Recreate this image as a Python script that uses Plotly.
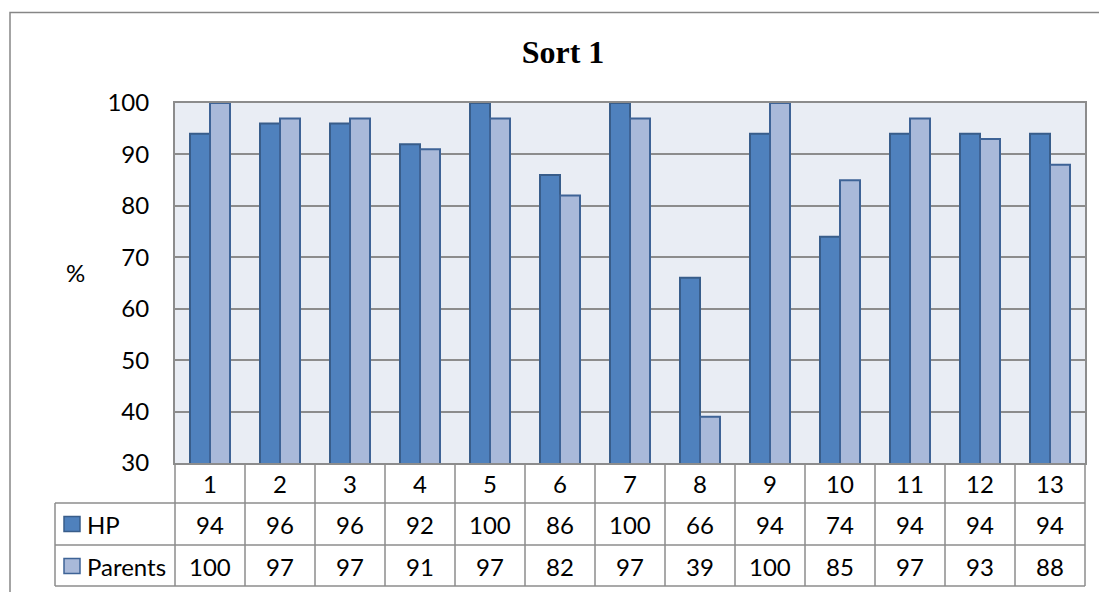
import plotly.graph_objects as go

# Chart data
categories = [str(i) for i in range(1, 14)]
hp_values = [94, 96, 96, 92, 100, 86, 100, 66, 94, 74, 94, 94, 94]
parents_values = [100, 97, 97, 91, 97, 82, 97, 39, 100, 85, 97, 93, 88]
series_names = ["HP", "Parents"]
y_ticks = [30, 40, 50, 60, 70, 80, 90, 100]

W, H = 1099, 592
PLOT_L, PLOT_R, PLOT_T, PLOT_B = 175, 1085, 103, 463

HP_FILL, HP_LINE = "#4F81BD", "#385D8A"
PA_FILL, PA_LINE = "#A9B9D9", "#3E6396"
GRID = "#8C8C8C"
FONT = "Lato"
FS = 24


def px_x(x):
    return (x - PLOT_L) / (PLOT_R - PLOT_L)


def px_y(y):
    return (PLOT_B - y) / (PLOT_B - PLOT_T)


fig = go.Figure()
fig.add_bar(x=categories, y=hp_values, name=series_names[0],
            marker=dict(color=HP_FILL, line=dict(color=HP_LINE, width=2)))
fig.add_bar(x=categories, y=parents_values, name=series_names[1],
            marker=dict(color=PA_FILL, line=dict(color=PA_LINE, width=2)))

shapes = []
annotations = []

# Outer chart frame (runs off the right and bottom edges)
shapes.append(dict(type="rect", xref="paper", yref="paper",
                   x0=px_x(10), x1=px_x(W + 5), y0=px_y(H + 5), y1=px_y(12.5),
                   line=dict(color="#868686", width=1.5), fillcolor="rgba(0,0,0,0)",
                   layer="below"))

# Data table grid
row_lines = [503, 545, 586]
for ry in row_lines:
    shapes.append(dict(type="line", xref="paper", yref="paper",
                       x0=px_x(55), x1=px_x(PLOT_R), y0=px_y(ry), y1=px_y(ry),
                       line=dict(color=GRID, width=1.5)))
shapes.append(dict(type="line", xref="paper", yref="paper",
                   x0=px_x(55), x1=px_x(55), y0=px_y(503), y1=px_y(586),
                   line=dict(color=GRID, width=1.5)))
n = len(categories)
for k in range(n + 1):
    xp = k / n
    shapes.append(dict(type="line", xref="paper", yref="paper",
                       x0=xp, x1=xp, y0=px_y(PLOT_B), y1=px_y(586),
                       line=dict(color=GRID, width=1.5)))

# Table text: header, HP row, Parents row
row_centers = [483, 524, 566]
for i, cat in enumerate(categories):
    xc = (i + 0.5) / n
    for yc, txt in zip(row_centers, [cat, hp_values[i], parents_values[i]]):
        annotations.append(dict(x=xc, y=px_y(yc), xref="paper", yref="paper",
                                text=str(txt), showarrow=False,
                                xanchor="center", yanchor="middle",
                                font=dict(family=FONT, size=FS, color="black")))

# Legend keys inside the table
for (yc, name, fill, line) in [(524, series_names[0], HP_FILL, HP_LINE),
                               (566, series_names[1], PA_FILL, PA_LINE)]:
    shapes.append(dict(type="rect", xref="paper", yref="paper",
                       x0=px_x(64), x1=px_x(80), y0=px_y(yc + 7.5), y1=px_y(yc - 7.5),
                       fillcolor=fill, line=dict(color=line, width=1.5)))
    annotations.append(dict(x=px_x(85), y=px_y(yc), xref="paper", yref="paper",
                            text=name, showarrow=False, xanchor="left", yanchor="middle",
                            font=dict(family=FONT, size=FS, color="black")))

# Axis title
annotations.append(dict(x=px_x(75), y=px_y(272), xref="paper", yref="paper",
                        text="%", showarrow=False, xanchor="center", yanchor="middle",
                        font=dict(family=FONT, size=FS, color="black")))

fig.update_layout(
    width=W, height=H,
    margin=dict(l=PLOT_L, r=W - PLOT_R, t=PLOT_T, b=H - PLOT_B, pad=0),
    paper_bgcolor="white",
    plot_bgcolor="#E9EDF4",
    showlegend=False,
    barmode="group",
    bargap=30 / 70,
    bargroupgap=0,
    title=dict(text="<b>Sort 1</b>", x=(563 / W), xanchor="center",
               y=1 - 52 / H, yanchor="middle",
               font=dict(family="Liberation Serif", size=32, color="black")),
    xaxis=dict(showticklabels=False, showgrid=False, showline=True, mirror=True,
               linecolor=GRID, linewidth=2, ticks=""),
    yaxis=dict(range=[30, 100], tickvals=y_ticks, showgrid=True, gridcolor=GRID,
               gridwidth=1.5, showline=True, mirror=True, linecolor=GRID, linewidth=2,
               ticks="", ticklabelstandoff=19, zeroline=False,
               tickfont=dict(family=FONT, size=FS, color="black")),
    shapes=shapes,
    annotations=annotations,
)

fig.write_html("out.html")
